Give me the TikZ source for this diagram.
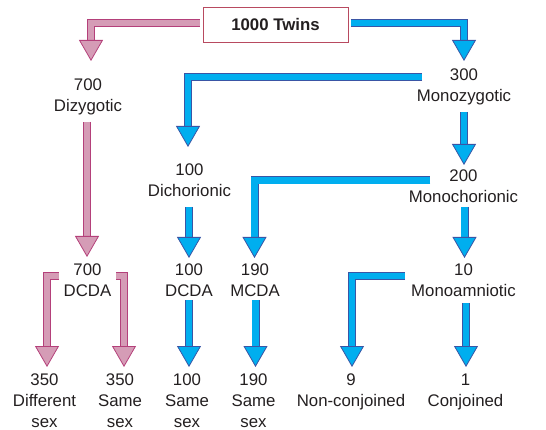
\documentclass[tikz,border=0pt]{standalone}
\usepackage{fontspec}
\setmainfont{Liberation Sans}
\usepackage{xcolor}
\usepackage{tikz}
\usetikzlibrary{arrows.meta, calc}
\definecolor{pinkfill}{HTML}{D59CB6}
\definecolor{pinkedge}{HTML}{B4407A}
\definecolor{bluefill}{HTML}{00AEEF}
\definecolor{blueedge}{HTML}{3A55A5}
\definecolor{boxedge}{HTML}{B84A60}
\definecolor{textgrey}{HTML}{231F20}
\tikzstyle{rootbox} = [rectangle, draw=boxedge, fill=white, line width=0.8pt, minimum width=145pt,
  minimum height=35pt, inner sep=0pt, font=\fontsize{16.8}{20.6}\selectfont\bfseries, text=textgrey]
\tikzstyle{countlabel} = [align=center, inner sep=0pt, anchor=north,
  font=\fontsize{16.8}{20.6}\selectfont, text=textgrey]
\tikzstyle{pinkarrow} = [draw=pinkedge, line width=0.8pt, double=pinkfill, double distance=6.4pt,
  -{Triangle[width=24pt, length=21pt, line width=0.8pt, fill=pinkfill]}]
\tikzstyle{bluearrow} = [draw=blueedge, line width=0.8pt, double=bluefill, double distance=6.4pt,
  -{Triangle[width=24pt, length=21pt, line width=0.8pt, fill=bluefill]}]

\begin{document}
\begin{tikzpicture}[x=1pt, y=-1pt]
  \useasboundingbox (0,0) rectangle (546,430);
  \node (twins) [rootbox] at (275.5,24.5) {1000 Twins};
  % zygosity
  \node (dz) [countlabel] at (88,79) {700\\Dizygotic};
  \node (mz) [countlabel] at (464,69) {300\\Monozygotic};
  % chorionicity
  \node (dc) [countlabel] at (189.5,164) {100\\Dichorionic};
  \node (mc) [countlabel] at (463.5,170) {200\\Monochorionic};
  % amnionicity
  \node (dcdaA) [countlabel] at (87.5,264) {700\\DCDA};
  \node (dcdaB) [countlabel] at (189,264) {100\\DCDA};
  \node (mcda) [countlabel] at (255,264) {190\\MCDA};
  \node (ma) [countlabel] at (463.5,264) {10\\Monoamniotic};
  % outcome
  \node (diffsex) [countlabel] at (44.5,374) {350\\Different\\sex};
  \node (samesexA) [countlabel] at (120,374) {350\\Same\\sex};
  \node (samesexB) [countlabel] at (187,374) {100\\Same\\sex};
  \node (samesexC) [countlabel] at (253.5,374) {190\\Same\\sex};
  \node (nonconj) [countlabel] at (351,374) {9\\Non-conjoined};
  \node (conj) [countlabel] at (465.5,374) {1\\Conjoined};

  \draw[pinkarrow] ([shift={(-3,-1.5)}]twins.west) -| ([shift={(3,-18)}]dz.north);
  \draw[bluearrow] ([shift={(3,-1.5)}]twins.east) -| ([shift={(0,-8)}]mz.north);
  \draw[bluearrow] ([shift={(-42,8)}]mz.north) -| ([shift={(-1.5,-17)}]dc.north);
  \draw[bluearrow] ([shift={(0,43)}]mz.north) -- ([shift={(0.5,-5)}]mc.north);
  \draw[pinkarrow] ([shift={(-1,43)}]dz.north) -- ([shift={(-0.5,-7)}]dcdaA.north);
  \draw[bluearrow] ([shift={(-0.5,43)}]dc.north) -- ([shift={(0,-6)}]dcdaB.north);
  \draw[bluearrow] ([shift={(-33.5,10.5)}]mc.north) -| ([shift={(-0.5,-6)}]mcda.north);
  \draw[bluearrow] ([shift={(1,37)}]mc.north) -- ([shift={(1,-6)}]ma.north);
  \draw[pinkarrow] ([shift={(-28.5,12)}]dcdaA.north) -| ([shift={(2.5,-7)}]diffsex.north);
  \draw[pinkarrow] ([shift={(28.5,12)}]dcdaA.north) -| ([shift={(4,-7)}]samesexA.north);
  \draw[bluearrow] ([shift={(0,36)}]dcdaB.north) -- ([shift={(2,-7)}]samesexB.north);
  \draw[bluearrow] ([shift={(0.5,36)}]mcda.north) -- ([shift={(2,-7)}]samesexC.north);
  \draw[bluearrow] ([shift={(-58.5,12)}]ma.north) -| ([shift={(1,-7)}]nonconj.north);
  \draw[bluearrow] ([shift={(2.5,39)}]ma.north) -- ([shift={(0.5,-7)}]conj.north);
\end{tikzpicture}
\end{document}
